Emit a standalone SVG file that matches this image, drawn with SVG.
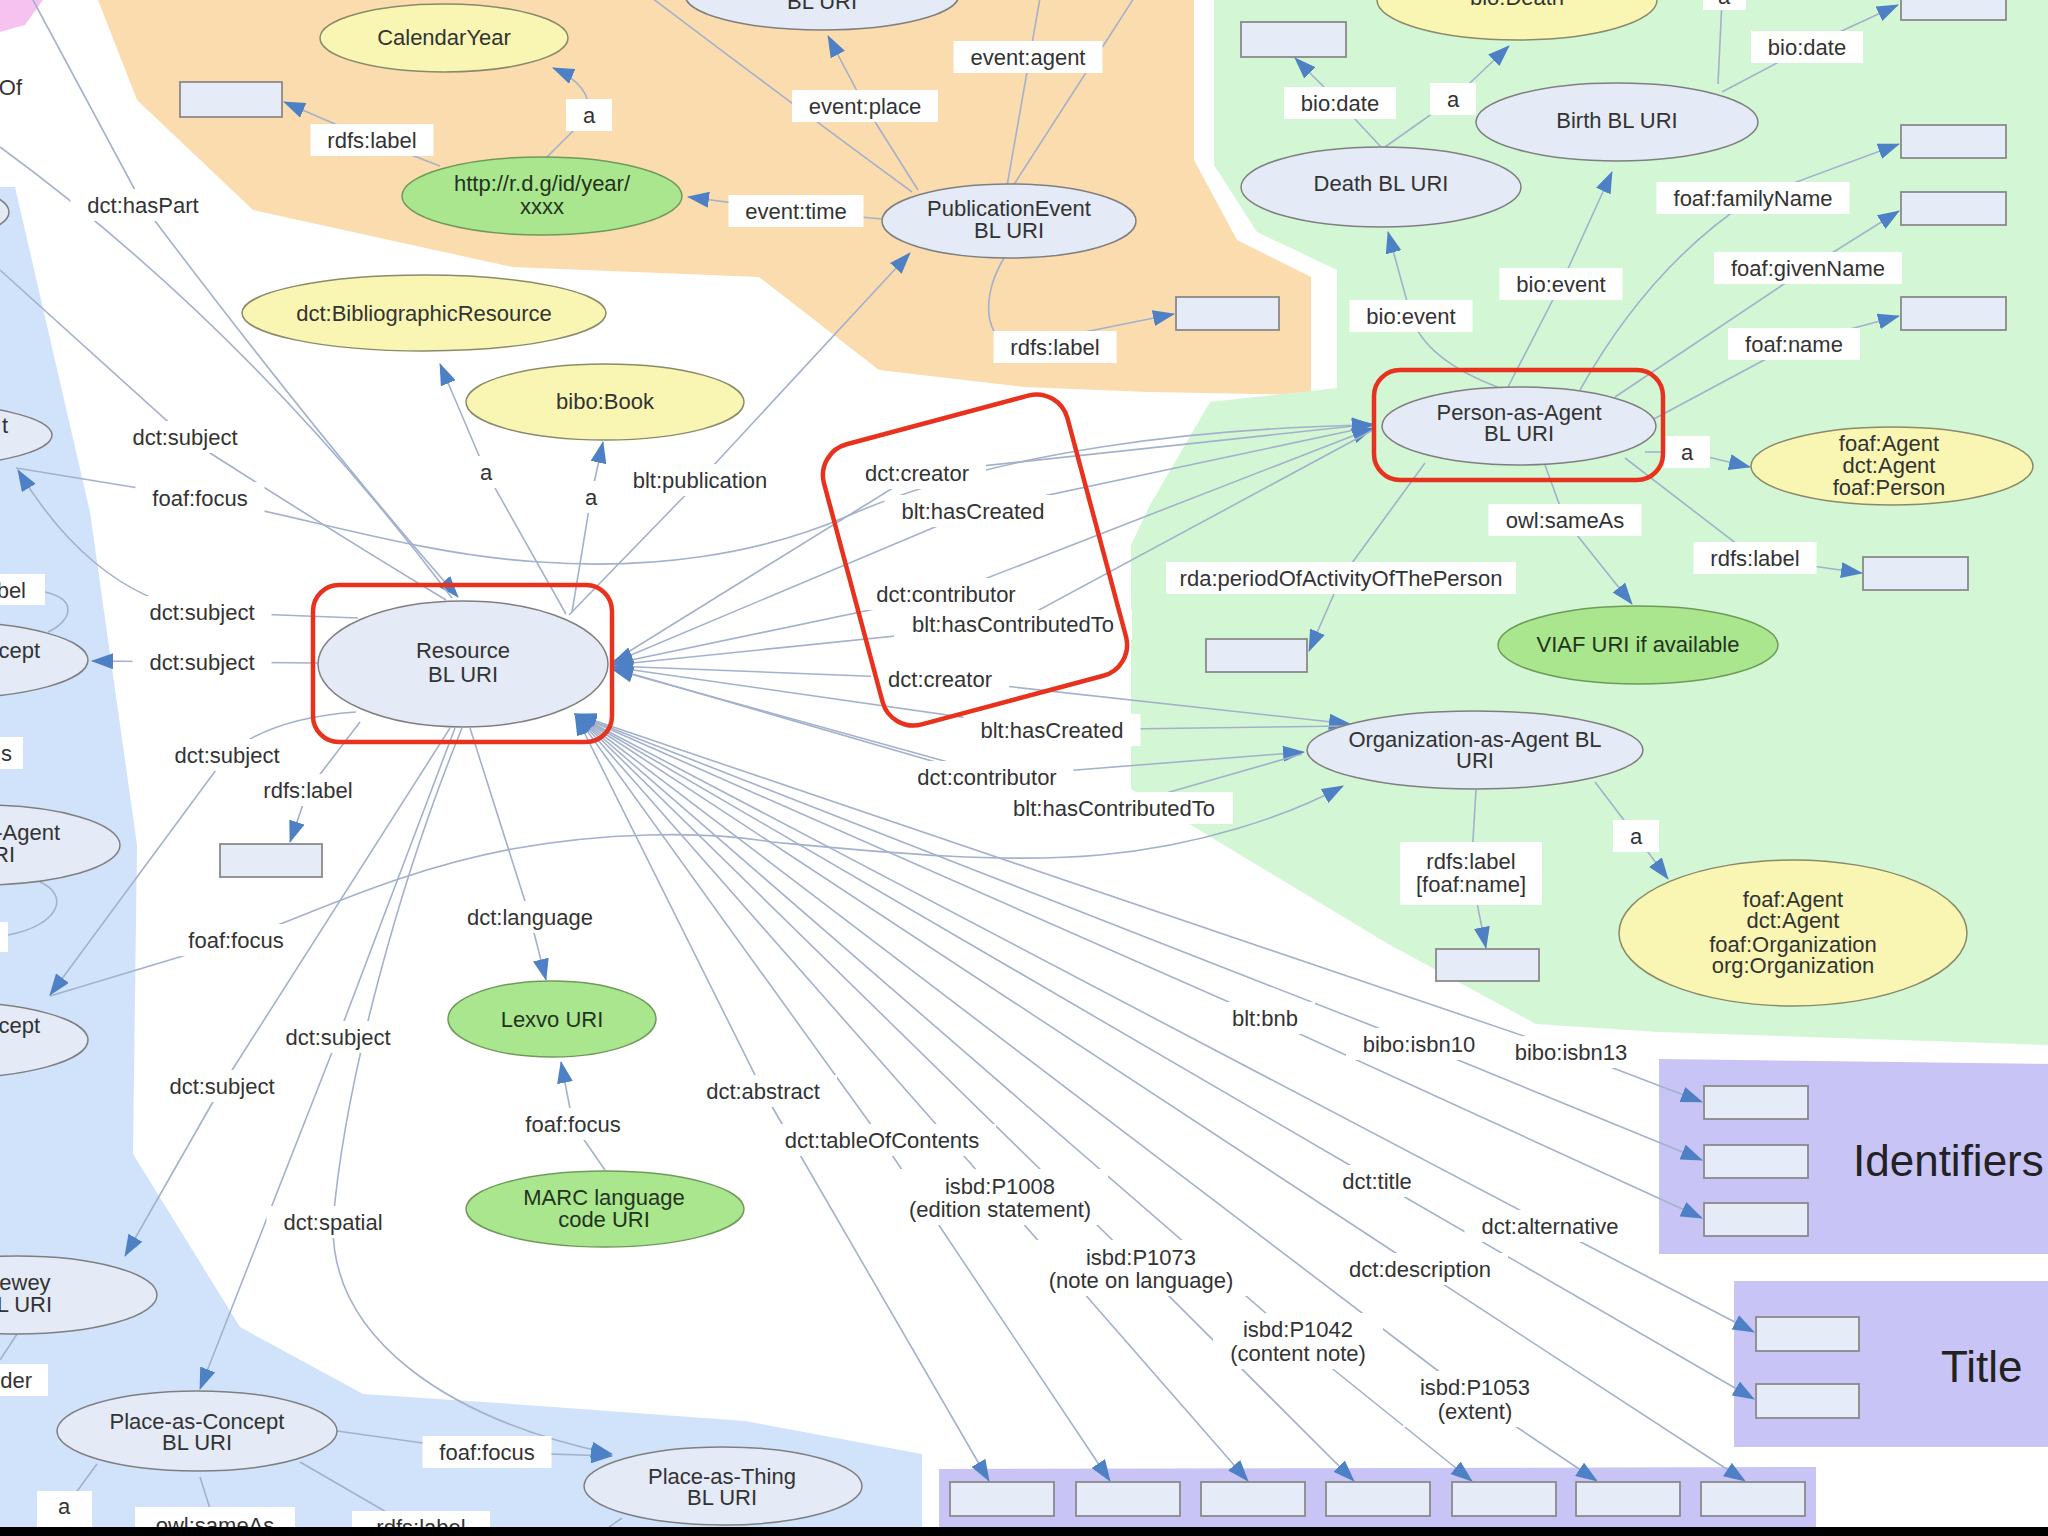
<svg xmlns="http://www.w3.org/2000/svg" width="2048" height="1536" viewBox="0 0 2048 1536">
<defs>
<style>
text{font-family:"Liberation Sans",Arial,Helvetica,sans-serif;font-size:22px;fill:#333;text-anchor:middle}
.ln{fill:none;stroke:#a3b1cc;stroke-width:1.6}
.ar{marker-end:url(#ah)}
.as{marker-start:url(#ah)}
.lb rect{fill:#fff}
.nb ellipse{fill:#e4eaf6;stroke:#7f7f7f;stroke-width:1.5}
.ny ellipse{fill:#f9f6b4;stroke:#8a8a6a;stroke-width:1.5}
.ng ellipse{fill:#a9e68e;stroke:#6f9a5a;stroke-width:1.5}
.ng text{fill:#24331e}
.bx{fill:#e6ecf7;stroke:#8a8a8a;stroke-width:1.8}
.red{fill:none;stroke:#e8321e;stroke-width:4.5}
.big{font-size:44px;fill:#222;text-anchor:start}
.end{text-anchor:end}
</style>
<marker id="ah" viewBox="0 0 22 16" refX="21" refY="8" markerWidth="22" markerHeight="16" markerUnits="userSpaceOnUse" orient="auto-start-reverse"><path d="M0,0 L22,8 L0,16 z" fill="#4d80c4"/></marker>
</defs>
<rect width="2048" height="1536" fill="#fff"/>
<g id="regions">
<polygon points="98,0 1194,0 1194,160 1237,240 1311,277 1311,395 1149,392 1024,387 879,370 759,277 512,267 253,210 137,100" fill="#fbdcae"/>
<polygon points="1214,0 2048,0 2048,1045 1659,1032 1536,1024 1390,945 1224,845 1131,789 1131,545 1150,505 1210,402 1337,388 1337,270 1257,232 1214,165" fill="#d3f6d5"/>
<polygon points="0,187 15,187 90,512 137,845 133,1154 240,1327 363,1394 512,1404 745,1421 922,1454 922,1527 0,1527" fill="#d0e3fb"/>
<polygon points="0,0 43,0 25,25 0,32" fill="#f6c3f0"/>
<polygon points="1659,1059 2048,1064 2048,1254 1659,1254" fill="#c9c4f6"/>
<polygon points="1734,1281 2048,1281 2048,1447 1734,1447" fill="#c9c4f6"/>
<polygon points="939,1469 1816,1467 1816,1527 939,1527" fill="#c9c4f6"/>
</g>
<g id="connectors">
<path class="ln ar" d="M546 158 L589 115 Q592 85 553 68"/>
<path class="ln ar" d="M440 166 L372 140 L284 102"/>
<path class="ln ar" d="M882 219 L796 211 L688 197"/>
<path class="ln ar" d="M918 190 L865 106 L828 36"/>
<path class="ln" d="M912 192 Q800 110 652 -2"/>
<path class="ln" d="M1007 186 L1040 -2"/>
<path class="ln" d="M1013 186 L1134 -2"/>
<path class="ln ar" d="M1004 258 C985 290 980 330 1010 347 L1174 314"/>
<path class="ln ar" d="M569 615 L700 480 L910 253"/>
<path class="ln ar" d="M566 614 L486 472 L440 364"/>
<path class="ln ar" d="M572 612 L591 497 L603 442"/>
<path class="ln ar" d="M1381 147 L1340 103 L1295 58"/>
<path class="ln ar" d="M1385 147 L1453 99 L1509 46"/>
<path class="ln ar" d="M1722 92 L1807 47 L1898 5"/>
<path class="ln" d="M1718 84 L1722 0"/>
<path class="ln ar" d="M1500 388 Q1425 360 1411 316 L1388 232"/>
<path class="ln ar" d="M1508 387 L1561 284 L1612 172"/>
<path class="ln ar" d="M1580 390 Q1650 265 1753 198 L1899 144"/>
<path class="ln ar" d="M1615 397 L1808 268 L1899 211"/>
<path class="ln ar" d="M1652 420 L1794 344 L1899 316"/>
<path class="ln ar" d="M1645 452 L1687 452 L1750 467"/>
<path class="ln ar" d="M1545 465 L1565 520 L1632 604"/>
<path class="ln ar" d="M1625 458 L1755 558 L1862 573"/>
<path class="ln ar" d="M1425 463 L1341 578 L1309 651"/>
<path class="ln ar" d="M1595 782 L1636 836 L1668 879"/>
<path class="ln ar" d="M1476 790 L1471 873 L1486 948"/>
<path class="ln ar" d="M612 662 L917 473 L1373 424"/>
<path class="ln as" d="M612 663 L973 511 L1373 426"/>
<path class="ln ar" d="M612 664 L946 594 L1373 428"/>
<path class="ln as" d="M612 665 L1013 624 L1373 430"/>
<path class="ln ar" d="M612 666 L940 679 L1350 724"/>
<path class="ln as" d="M612 667 L1052 730 L1348 726"/>
<path class="ln ar" d="M612 668 L987 777 L1304 752"/>
<path class="ln as" d="M612 669 L1114 808 L1302 754"/>
<path class="ln ar" d="M16 468 L200 498 C300 515 420 555 540 562 C650 570 760 555 850 515 C1000 450 1200 428 1373 425"/>
<path class="ln ar" d="M50 996 L236 940 C300 920 390 872 512 849 C600 833 700 830 772 842 C880 852 1000 864 1100 855 C1200 846 1290 815 1343 786"/>
<path class="ln ar" d="M33 0 L143 205 Q320 440 458 597"/>
<path class="ln" d="M0 147 Q250 330 452 598"/>
<path class="ln" d="M0 270 L185 437 Q330 530 446 600"/>
<path class="ln ar" d="M358 618 L202 612 C120 600 60 540 18 470"/>
<path class="ln ar" d="M320 663 L202 662 L92 661"/>
<path class="ln" d="M45 592 C80 600 70 622 48 632"/>
<path class="ln ar" d="M356 712 Q270 718 227 755 L50 995"/>
<path class="ln ar" d="M360 722 L308 790 L290 842"/>
<path class="ln" d="M40 882 C70 895 60 925 8 935"/>
<path class="ln ar" d="M470 728 L530 917 L546 980"/>
<path class="ln ar" d="M605 1170 L573 1124 L561 1062"/>
<path class="ln ar" d="M455 728 L338 1037 L200 1389"/>
<path class="ln ar" d="M450 728 L222 1086 L125 1256"/>
<path class="ln ar" d="M462 728 C400 880 345 1080 333 1222 C330 1340 450 1420 612 1454"/>
<path class="ln ar" d="M337 1431 L487 1452 L612 1456"/>
<path class="ln" d="M97 1464 L64 1509"/>
<path class="ln" d="M200 1477 L212 1515"/>
<path class="ln" d="M300 1462 L400 1520"/>
<path class="ln" d="M622 1518 L605 1530"/>
<path class="ln" d="M17 1334 L0 1360"/>
<path class="ln ar as" d="M575 714 L1265 1018 L1702 1218"/>
<path class="ln ar as" d="M575 714 L1419 1044 L1702 1160"/>
<path class="ln ar as" d="M575 714 L1571 1052 L1702 1102"/>
<path class="ln ar as" d="M575 714 L1377 1181 L1754 1399"/>
<path class="ln ar as" d="M575 714 L1550 1226 L1754 1332"/>
<path class="ln ar as" d="M575 714 L1420 1269 L1745 1481"/>
<path class="ln ar as" d="M575 714 L763 1091 L989 1481"/>
<path class="ln ar as" d="M575 714 L882 1140 L1110 1481"/>
<path class="ln ar as" d="M575 714 L1000 1197 L1248 1481"/>
<path class="ln ar as" d="M575 714 L1141 1268 L1354 1481"/>
<path class="ln ar as" d="M575 714 L1298 1341 L1472 1481"/>
<path class="ln ar as" d="M575 714 L1475 1399 L1597 1481"/>
</g>
<g id="edge-labels" class="lb">
<rect x="310.5" y="124" width="123" height="32"/><text x="372" y="148">rdfs:label</text>
<rect x="566" y="99" width="46" height="32"/><text x="589" y="123">a</text>
<rect x="792" y="90" width="146" height="32"/><text x="865" y="114">event:place</text>
<rect x="953.5" y="41" width="149" height="32"/><text x="1028" y="65">event:agent</text>
<rect x="728.5" y="195" width="135" height="32"/><text x="796" y="219">event:time</text>
<rect x="993.5" y="331" width="123" height="32"/><text x="1055" y="355">rdfs:label</text>
<rect x="1284" y="87" width="112" height="32"/><text x="1340" y="111">bio:date</text>
<rect x="1430" y="83" width="46" height="32"/><text x="1453" y="107">a</text>
<rect x="1751" y="31" width="112" height="32"/><text x="1807" y="55">bio:date</text>
<rect x="1703" y="-22" width="43" height="32"/><text x="1724" y="4">a</text>
<rect x="1656.5" y="182" width="193" height="32"/><text x="1753" y="206">foaf:familyName</text>
<rect x="1714" y="252" width="188" height="32"/><text x="1808" y="276">foaf:givenName</text>
<rect x="1728" y="328" width="132" height="32"/><text x="1794" y="352">foaf:name</text>
<rect x="1349.5" y="300" width="123" height="32"/><text x="1411" y="324">bio:event</text>
<rect x="1499.5" y="268" width="123" height="32"/><text x="1561" y="292">bio:event</text>
<rect x="1664" y="436" width="46" height="32"/><text x="1687" y="460">a</text>
<rect x="1488.5" y="504" width="153" height="32"/><text x="1565" y="528">owl:sameAs</text>
<rect x="1693.5" y="542" width="123" height="32"/><text x="1755" y="566">rdfs:label</text>
<rect x="1166" y="562" width="350" height="32"/><text x="1341" y="586">rda:periodOfActivityOfThePerson</text>
<rect x="1400" y="842" width="142" height="63"/><text x="1471" y="869">rdfs:label</text><text x="1471" y="892">[foaf:name]</text>
<rect x="1613" y="820" width="46" height="32"/><text x="1636" y="844">a</text>
<rect x="848" y="457" width="138" height="32"/><text x="917" y="481">dct:creator</text>
<rect x="884.5" y="495" width="177" height="32"/><text x="973" y="519">blt:hasCreated</text>
<rect x="859.5" y="578" width="173" height="32"/><text x="946" y="602">dct:contributor</text>
<rect x="894" y="610" width="238" height="30"/><text x="1013" y="632">blt:hasContributedTo</text>
<rect x="871" y="663" width="138" height="32"/><text x="940" y="687">dct:creator</text>
<rect x="963.5" y="714" width="177" height="32"/><text x="1052" y="738">blt:hasCreated</text>
<rect x="900.5" y="761" width="173" height="32"/><text x="987" y="785">dct:contributor</text>
<rect x="995" y="792" width="238" height="32"/><text x="1114" y="816">blt:hasContributedTo</text>
<rect x="70.5" y="189" width="145" height="32"/><text x="143" y="213">dct:hasPart</text>
<rect x="115.5" y="421" width="139" height="32"/><text x="185" y="445">dct:subject</text>
<rect x="135.5" y="482" width="129" height="32"/><text x="200" y="506">foaf:focus</text>
<rect x="463" y="456" width="46" height="32"/><text x="486" y="480">a</text>
<rect x="568" y="481" width="46" height="32"/><text x="591" y="505">a</text>
<rect x="616" y="464" width="168" height="32"/><text x="700" y="488">blt:publication</text>
<rect x="132.5" y="596" width="139" height="32"/><text x="202" y="620">dct:subject</text>
<rect x="132.5" y="646" width="139" height="32"/><text x="202" y="670">dct:subject</text>
<rect x="157.5" y="739" width="139" height="32"/><text x="227" y="763">dct:subject</text>
<rect x="246.5" y="774" width="123" height="32"/><text x="308" y="798">rdfs:label</text>
<rect x="171.5" y="924" width="129" height="32"/><text x="236" y="948">foaf:focus</text>
<rect x="450" y="901" width="160" height="32"/><text x="530" y="925">dct:language</text>
<rect x="268.5" y="1021" width="139" height="32"/><text x="338" y="1045">dct:subject</text>
<rect x="152.5" y="1070" width="139" height="32"/><text x="222" y="1094">dct:subject</text>
<rect x="266.5" y="1206" width="133" height="32"/><text x="333" y="1230">dct:spatial</text>
<rect x="422.5" y="1436" width="129" height="32"/><text x="487" y="1460">foaf:focus</text>
<rect x="508.5" y="1108" width="129" height="32"/><text x="573" y="1132">foaf:focus</text>
<rect x="689" y="1075" width="148" height="32"/><text x="763" y="1099">dct:abstract</text>
<rect x="768" y="1124" width="228" height="32"/><text x="882" y="1148">dct:tableOfContents</text>
<rect x="892" y="1169" width="216" height="56"/><text x="1000" y="1194">isbd:P1008</text><text x="1000" y="1217">(edition statement)</text>
<rect x="1031.5" y="1240" width="219" height="56"/><text x="1141" y="1265">isbd:P1073</text><text x="1141" y="1288">(note on language)</text>
<rect x="1213" y="1313" width="170" height="56"/><text x="1298" y="1337">isbd:P1042</text><text x="1298" y="1361">(content note)</text>
<rect x="1403" y="1371" width="144" height="56"/><text x="1475" y="1395">isbd:P1053</text><text x="1475" y="1419">(extent)</text>
<rect x="1325" y="1165" width="104" height="32"/><text x="1377" y="1189">dct:title</text>
<rect x="1464.5" y="1210" width="171" height="32"/><text x="1550" y="1234">dct:alternative</text>
<rect x="1332" y="1253" width="176" height="32"/><text x="1420" y="1277">dct:description</text>
<rect x="1215" y="1002" width="100" height="32"/><text x="1265" y="1026">blt:bnb</text>
<rect x="1346" y="1028" width="146" height="32"/><text x="1419" y="1052">bibo:isbn10</text>
<rect x="1498" y="1036" width="146" height="32"/><text x="1571" y="1060">bibo:isbn13</text>
<rect x="37" y="1491" width="55" height="36"/><text x="64" y="1514">a</text>
<rect x="135" y="1507" width="160" height="30"/><text x="215" y="1533">owl:sameAs</text>
<rect x="352" y="1511" width="138" height="26"/><text x="421" y="1535">rdfs:label</text>
<rect x="0" y="574" width="45" height="31"/><text class="end" x="26" y="598">bel</text>
<rect x="0" y="737" width="23" height="32"/><text class="end" x="12" y="761">s</text>
<rect x="0" y="1364" width="48" height="32"/><text class="end" x="32" y="1388">der</text>
<rect x="0" y="922" width="8" height="30"/>
<text class="end" x="22" y="95">Of</text>
</g>
<g id="nodes">
<g id="n-bluri-top" class="nb"><ellipse cx="822" cy="-5" rx="137" ry="35"/><text x="822" y="9">BL URI</text></g>
<g id="n-calendaryear" class="ny"><ellipse cx="444" cy="38" rx="124" ry="34"/><text x="444" y="45">CalendarYear</text></g>
<g id="n-year" class="ng"><ellipse cx="542" cy="196" rx="140" ry="39"/><text x="542" y="191">http://r.d.g/id/year/</text><text x="542" y="214">xxxx</text></g>
<g id="n-pubevent" class="nb"><ellipse cx="1009" cy="221" rx="127" ry="37"/><text x="1009" y="216">PublicationEvent</text><text x="1009" y="238">BL URI</text></g>
<g id="n-bibres" class="ny"><ellipse cx="424" cy="313" rx="182" ry="38"/><text x="424" y="321">dct:BibliographicResource</text></g>
<g id="n-book" class="ny"><ellipse cx="605" cy="402" rx="139" ry="38"/><text x="605" y="409">bibo:Book</text></g>
<g id="n-resource" class="nb"><ellipse cx="463" cy="664" rx="145" ry="63"/><text x="463" y="658">Resource</text><text x="463" y="682">BL URI</text></g>
<g id="n-person" class="nb"><ellipse cx="1519" cy="426" rx="137" ry="39"/><text x="1519" y="420">Person-as-Agent</text><text x="1519" y="441">BL URI</text></g>
<g id="n-person-type" class="ny"><ellipse cx="1892" cy="466" rx="141" ry="39"/><text x="1889" y="451">foaf:Agent</text><text x="1889" y="473">dct:Agent</text><text x="1889" y="495">foaf:Person</text></g>
<g id="n-death" class="nb"><ellipse cx="1381" cy="187" rx="140" ry="40"/><text x="1381" y="191">Death BL URI</text></g>
<g id="n-birth" class="nb"><ellipse cx="1617" cy="122" rx="141" ry="39"/><text x="1617" y="128">Birth BL URI</text></g>
<g id="n-biodeath" class="ny"><ellipse cx="1517" cy="0" rx="140" ry="40"/><text x="1517" y="5">bio:Death</text></g>
<g id="n-viaf" class="ng"><ellipse cx="1638" cy="645" rx="140" ry="39"/><text x="1638" y="652">VIAF URI if available</text></g>
<g id="n-org" class="nb"><ellipse cx="1475" cy="750" rx="168" ry="39"/><text x="1475" y="747">Organization-as-Agent BL</text><text x="1475" y="768">URI</text></g>
<g id="n-org-type" class="ny"><ellipse cx="1793" cy="933" rx="174" ry="73"/><text x="1793" y="907">foaf:Agent</text><text x="1793" y="928">dct:Agent</text><text x="1793" y="952">foaf:Organization</text><text x="1793" y="973">org:Organization</text></g>
<g id="n-lexvo" class="ng"><ellipse cx="552" cy="1019" rx="104" ry="38"/><text x="552" y="1027">Lexvo URI</text></g>
<g id="n-marc" class="ng"><ellipse cx="605" cy="1209" rx="139" ry="38"/><text x="604" y="1205">MARC language</text><text x="604" y="1227">code URI</text></g>
<g id="n-place-concept" class="nb"><ellipse cx="197" cy="1431" rx="140" ry="40"/><text x="197" y="1429">Place-as-Concept</text><text x="197" y="1450">BL URI</text></g>
<g id="n-place-thing" class="nb"><ellipse cx="723" cy="1486" rx="139" ry="39"/><text x="722" y="1484">Place-as-Thing</text><text x="722" y="1505">BL URI</text></g>
<g id="n-dewey" class="nb"><ellipse cx="17" cy="1295" rx="140" ry="39"/><text x="17" y="1290">Dewey</text><text x="17" y="1312">BL URI</text></g>
<g id="n-left1" class="nb"><ellipse cx="-131" cy="212" rx="140" ry="35"/></g>
<g id="n-left2" class="nb"><ellipse cx="-88" cy="435" rx="140" ry="32"/><text class="end" x="8" y="433">t</text></g>
<g id="n-left3" class="nb"><ellipse cx="-52" cy="660" rx="140" ry="38"/><text class="end" x="40" y="658">cept</text></g>
<g id="n-left4" class="nb"><ellipse cx="-20" cy="845" rx="140" ry="40"/><text class="end" x="60" y="840">-Agent</text><text class="end" x="15" y="862">RI</text></g>
<g id="n-left5" class="nb"><ellipse cx="-52" cy="1040" rx="140" ry="38"/><text class="end" x="40" y="1033">cept</text></g>
<g id="literals">
<rect class="bx" x="180" y="82" width="102" height="35"/>
<rect class="bx" x="1176" y="297" width="103" height="33"/>
<rect class="bx" x="1241" y="22" width="105" height="35"/>
<rect class="bx" x="1901" y="-15" width="105" height="35"/>
<rect class="bx" x="1901" y="125" width="105" height="33"/>
<rect class="bx" x="1901" y="192" width="105" height="33"/>
<rect class="bx" x="1901" y="297" width="105" height="33"/>
<rect class="bx" x="1863" y="557" width="105" height="33"/>
<rect class="bx" x="1206" y="639" width="101" height="33"/>
<rect class="bx" x="1436" y="949" width="103" height="32"/>
<rect class="bx" x="220" y="844" width="102" height="33"/>
<rect class="bx" x="1704" y="1086" width="104" height="33"/>
<rect class="bx" x="1704" y="1145" width="104" height="33"/>
<rect class="bx" x="1704" y="1203" width="104" height="33"/>
<rect class="bx" x="1756" y="1317" width="103" height="34"/>
<rect class="bx" x="1756" y="1384" width="103" height="34"/>
<rect class="bx" x="950" y="1482" width="104" height="34"/>
<rect class="bx" x="1076" y="1482" width="104" height="34"/>
<rect class="bx" x="1201" y="1482" width="104" height="34"/>
<rect class="bx" x="1326" y="1482" width="104" height="34"/>
<rect class="bx" x="1452" y="1482" width="104" height="34"/>
<rect class="bx" x="1576" y="1482" width="104" height="34"/>
<rect class="bx" x="1701" y="1482" width="104" height="34"/>
</g>
<text class="big" x="1853" y="1176">Identifiers</text>
<text class="big" x="1941" y="1382">Title</text>
</g>
<g id="highlights">
<rect class="red" x="313" y="585" width="299" height="157" rx="26"/>
<rect class="red" x="1374" y="370" width="289" height="110" rx="26"/>
<rect class="red" x="-126" y="-145" width="252" height="290" rx="32" transform="translate(975 560) rotate(-15)"/>
</g>
<rect x="0" y="1527" width="2048" height="9" fill="#000"/>
</svg>
